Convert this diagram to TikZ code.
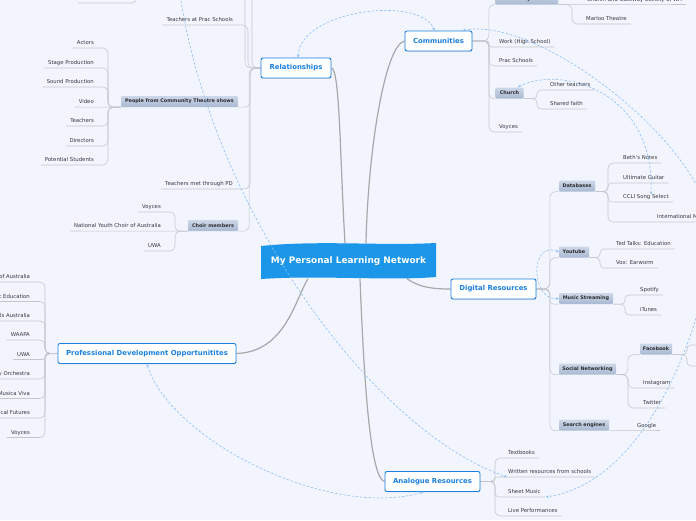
\documentclass[tikz,border=0pt]{standalone}
\usepackage{fontspec}
\setmainfont{DejaVu Sans}
\usetikzlibrary{arrows.meta,shadows}
\definecolor{bgc}{RGB}{242,245,253}
\definecolor{tblue}{RGB}{27,128,224}
\definecolor{cblue}{RGB}{28,150,232}
\definecolor{lgray}{RGB}{196,198,204}
\definecolor{mgray}{RGB}{168,168,170}
\definecolor{txt}{RGB}{55,55,58}
\definecolor{dashc}{RGB}{140,190,245}
\definecolor{boxtop}{RGB}{205,215,232}
\definecolor{boxbot}{RGB}{168,185,210}
\pgfdeclarelayer{bg}\pgfdeclarelayer{lines}\pgfsetlayers{bg,lines,main}
\tikzset{
 leaf/.style={font=\fontsize{5.35}{6}\selectfont, text=txt, inner xsep=0pt, inner ysep=0pt, text height=4pt, text depth=3.2pt},
 topic/.style={draw=tblue, line width=0.9pt, fill=white, rounded corners=2pt, inner sep=0pt, minimum height=20pt, text=tblue, font=\fontsize{6.9}{8}\selectfont\bfseries, drop shadow={opacity=0.2,shadow xshift=0.4pt,shadow yshift=-0.8pt}},
 sbox/.style={top color=boxtop, bottom color=boxbot, draw=none, rounded corners=1pt, inner sep=0pt, minimum height=11pt, text=txt!80!black, font=\fontsize{4.9}{6}\selectfont\bfseries},
 conn/.style={draw=lgray, line width=0.55pt},
 mainconn/.style={draw=mgray, line width=1.2pt},
 link/.style={draw=dashc, line width=0.6pt, dash pattern=on 2.4pt off 1.8pt, {Stealth[length=3pt,width=2.6pt]}-{Stealth[length=3pt,width=2.6pt]}},
 link1/.style={draw=dashc, line width=0.6pt, dash pattern=on 2.4pt off 1.8pt, -{Stealth[length=3pt,width=2.6pt]}},
}
\newcommand\kidR[4]{\draw[conn, rounded corners=#4] (#1) -| ([xshift=-#3]#2.south west) -- ([xshift=4pt]#2.south east);}
\newcommand\kidL[4]{\draw[conn, rounded corners=#4] (#1) -| ([xshift=#3]#2.south east) -- ([xshift=-4pt]#2.south west);}
\newcommand\boxR[4]{\draw[conn, rounded corners=#4] (#1) -| ([xshift=-#3]#2.south west) -- (#2.south west);}
\newcommand\boxL[4]{\draw[conn, rounded corners=#4] (#1) -| ([xshift=#3]#2.south east) -- (#2.south east);}
\begin{document}
\begin{tikzpicture}[x=1pt,y=-1pt]
\begin{pgfonlayer}{bg}
\fill[bgc] (0,0) rectangle (696,520);
\end{pgfonlayer}
\useasboundingbox (0,0) rectangle (696,520);

% central topic
\fill[cblue] (261,246) .. controls (320,240) and (380,246) .. (436,243) -- (436,277) .. controls (390,281) and (320,275) .. (261,279) -- cycle;
\node[font=\fontsize{8.95}{10}\selectfont\bfseries, text=white, minimum width=175pt, minimum height=35pt, inner sep=0pt] (center) at (348.5,261) {My Personal Learning Network};

% main topics
\node[topic, minimum width=70pt] (rel) at (296,68) {Relationships};
\node[topic, minimum width=67pt] (comm) at (438.5,41) {Communities};
\node[topic, minimum width=85pt] (dig) at (493.5,289) {Digital Resources};
\node[topic, minimum width=178pt] (pd) at (147,353.5) {Professional Development Opportunitites};
\node[topic, minimum width=95pt] (ana) at (432.5,481.5) {Analogue Resources};

% shaded sub-topics
\node[sbox, minimum width=117pt] (people) at (179.5,101.5) {People from Community Theatre shows};
\node[sbox, minimum width=50pt] (choir) at (213,225.5) {Choir members};
\node[sbox, minimum width=63pt] (ctheatre) at (526.5,-1) {Community Theatre};
\node[sbox, minimum width=28pt] (church) at (509.5,93) {Church};
\node[sbox, minimum width=36pt] (databases) at (577,186) {Databases};
\node[sbox, minimum width=30pt] (youtube) at (574,252) {Youtube};
\node[sbox, minimum width=54pt] (music) at (586,298.5) {Music Streaming};
\node[sbox, minimum width=57pt] (social) at (587.5,369) {Social Networking};
\node[sbox, minimum width=50pt] (search) at (584,425) {Search engines};
\node[sbox, minimum width=32pt] (facebook) at (656,349) {Facebook};

% leaves: Relationships
\node[leaf, anchor=south east] (pracT) at (233,25) {Teachers at Prac Schools};
\node[leaf, anchor=south east] (pdT) at (233,189) {Teachers met through PD};
\node[leaf, anchor=south east] (act) at (94,48) {Actors};
\node[leaf, anchor=south east] (stage) at (94,68) {Stage Production};
\node[leaf, anchor=south east] (sound) at (94,87) {Sound Production};
\node[leaf, anchor=south east] (video) at (94,107) {Video};
\node[leaf, anchor=south east] (teach) at (94,126) {Teachers};
\node[leaf, anchor=south east] (direc) at (94,146) {Directors};
\node[leaf, anchor=south east] (potst) at (94,165) {Potential Students};
\node[leaf, anchor=south east] (voy2) at (161,212) {Voyces};
\node[leaf, anchor=south east] (nyc) at (161,231) {National Youth Choir of Australia};
\node[leaf, anchor=south east] (uwa2) at (161,251) {UWA};
% leaves: Communities
\node[leaf, anchor=south west] (cg) at (587,4.5) {Church and Gateway Society of WA};
\node[leaf, anchor=south west] (marloo) at (586,24) {Marloo Theatre};
\node[leaf, anchor=south west] (work) at (499,47) {Work (High School)};
\node[leaf, anchor=south west] (prac) at (499,66) {Prac Schools};
\node[leaf, anchor=south west] (othert) at (550,90) {Other teachers};
\node[leaf, anchor=south west] (shared) at (550,109) {Shared faith};
\node[leaf, anchor=south west] (voy1) at (499,132) {Voyces};
% leaves: Digital
\node[leaf, anchor=south west] (beth) at (623,163) {Beth's Notes};
\node[leaf, anchor=south west] (ug) at (623,183) {Ultimate Guitar};
\node[leaf, anchor=south west] (ccli) at (623,202) {CCLI Song Select};
\node[leaf, anchor=south west] (intl) at (657,222) {International M};
\node[leaf, anchor=south west] (ted) at (616,249) {Ted Talks: Education};
\node[leaf, anchor=south west] (vox) at (616,268) {Vox: Earworm};
\node[leaf, anchor=south west] (spot) at (640,295) {Spotify};
\node[leaf, anchor=south west] (itun) at (640,315) {iTunes};
\node[leaf, anchor=south west] (insta) at (643,388) {Instagram};
\node[leaf, anchor=south west] (twit) at (643,408) {Twitter};
\node[leaf, anchor=south west] (google) at (637,430.5) {Google};
% leaves: Analogue
\node[leaf, anchor=south west] (textb) at (508,458) {Textbooks};
\node[leaf, anchor=south west] (writ) at (508,477) {Written resources from schools};
\node[leaf, anchor=south west] (sheet) at (508,497) {Sheet Music};
\node[leaf, anchor=south west] (live) at (508,516) {Live Performances};
% leaves: PD
\node[leaf, anchor=south east] (pd1) at (30,282) {of Australia};
\node[leaf, anchor=south east] (pd2) at (30,301.5) {c Education};
\node[leaf, anchor=south east] (pd3) at (30,321) {ls Australia};
\node[leaf, anchor=south east] (pd4) at (30,340) {WAAPA};
\node[leaf, anchor=south east] (pd5) at (30,359.5) {UWA};
\node[leaf, anchor=south east] (pd6) at (30,379) {y Orchestra};
\node[leaf, anchor=south east] (pd7) at (30,398.5) {Musica Viva};
\node[leaf, anchor=south east] (pd8) at (30,418) {cal Futures};
\node[leaf, anchor=south east] (pd9) at (30,437.5) {Voyces};

% off-canvas ends
\coordinate (offr1) at (230,-25);
\coordinate (offr2) at (236,-50);
\coordinate (offtl) at (137,-20);
\coordinate (tlend) at (78,3);
\coordinate (fbk1) at (705,345);
\coordinate (fbk2) at (705,366);
\coordinate (dtop) at (178,-20);
\coordinate (dkoff) at (712,235);

\begin{pgfonlayer}{lines}
% main connectors
\draw[mainconn] (rel.east) .. controls (340,69) and (340,160) .. ([xshift=-3.5pt]center.north);
\draw[mainconn] (comm.west) .. controls (385,45) and (368,150) .. ([xshift=17.5pt]center.north);
\draw[mainconn] ([xshift=58.5pt]center.south) .. controls (420,288) and (435,289) .. (dig.west);
\draw[mainconn] ([xshift=-40.5pt]center.south) .. controls (295,300) and (285,352) .. (pd.east);
\draw[mainconn] ([xshift=11.5pt]center.south) .. controls (364,380) and (370,478) .. (ana.west);
% Relationships
\draw[conn, rounded corners=6pt] (rel.west) -| ([xshift=15pt]offr1) -- (offr1);
\draw[conn, rounded corners=6pt] (rel.west) -| ([xshift=16pt]offr2) -- (offr2);
\draw[conn, rounded corners=5pt] (offtl) |- (tlend);
\kidL{rel.west}{pracT}{15pt}{6pt}
\boxL{rel.west}{people}{12pt}{6pt}
\kidL{rel.west}{pdT}{17pt}{6pt}
\boxL{rel.west}{choir}{11pt}{6pt}
\kidL{people.south west}{act}{14pt}{5pt}
\kidL{people.south west}{stage}{14pt}{5pt}
\kidL{people.south west}{sound}{14pt}{5pt}
\draw[conn] (people.south west) -- ([xshift=-4pt]video.south west);
\kidL{people.south west}{teach}{14pt}{5pt}
\kidL{people.south west}{direc}{14pt}{5pt}
\kidL{people.south west}{potst}{14pt}{5pt}
\kidL{choir.south west}{voy2}{14pt}{5pt}
\draw[conn] (choir.south west) -- ([xshift=-4pt]nyc.south west);
\kidL{choir.south west}{uwa2}{14pt}{5pt}
% Communities
\boxR{comm.east}{ctheatre}{6pt}{5pt}
\kidR{comm.east}{work}{10pt}{2.5pt}
\kidR{comm.east}{prac}{10pt}{5pt}
\boxR{comm.east}{church}{6.5pt}{5pt}
\kidR{comm.east}{voy1}{10pt}{6pt}
\draw[conn] (ctheatre.south east) -- ([xshift=4pt]cg.south east);
\kidR{ctheatre.south east}{marloo}{14pt}{5pt}
\kidR{church.south east}{othert}{13pt}{4pt}
\kidR{church.south east}{shared}{13pt}{4pt}
% Digital
\boxR{dig.east}{databases}{9pt}{6pt}
\boxR{dig.east}{youtube}{9pt}{6pt}
\boxR{dig.east}{music}{9pt}{4pt}
\boxR{dig.east}{social}{9pt}{6pt}
\boxR{dig.east}{search}{9pt}{6pt}
\kidR{databases.south east}{beth}{15pt}{5pt}
\kidR{databases.south east}{ug}{15pt}{4pt}
\kidR{databases.south east}{ccli}{15pt}{4pt}
\kidR{databases.south east}{intl}{49pt}{5pt}
\kidR{youtube.south east}{ted}{16pt}{4pt}
\kidR{youtube.south east}{vox}{16pt}{4pt}
\kidR{music.south east}{spot}{15pt}{4pt}
\kidR{music.south east}{itun}{15pt}{4pt}
\boxR{social.south east}{facebook}{12pt}{5pt}
\kidR{social.south east}{insta}{15pt}{5pt}
\kidR{social.south east}{twit}{15pt}{5pt}
\draw[conn] (search.south east) -- ([xshift=4pt]google.south east);
\draw[conn, rounded corners=4pt] (facebook.south east) -| ([xshift=-18pt]fbk1) -- (fbk1);
\draw[conn, rounded corners=4pt] (facebook.south east) -| ([xshift=-18pt]fbk2) -- (fbk2);
% Analogue
\kidR{ana.east}{textb}{13pt}{5pt}
\kidR{ana.east}{writ}{13pt}{2pt}
\kidR{ana.east}{sheet}{13pt}{4pt}
\kidR{ana.east}{live}{13pt}{5pt}
% PD
\kidL{pd.west}{pd1}{15pt}{5pt}
\kidL{pd.west}{pd2}{15pt}{5pt}
\kidL{pd.west}{pd3}{15pt}{5pt}
\kidL{pd.west}{pd4}{15pt}{5pt}
\kidL{pd.west}{pd5}{15pt}{2.5pt}
\kidL{pd.west}{pd6}{15pt}{5pt}
\kidL{pd.west}{pd7}{15pt}{5pt}
\kidL{pd.west}{pd8}{15pt}{5pt}
\kidL{pd.west}{pd9}{15pt}{5pt}
\end{pgfonlayer}

% dashed relation links
\draw[link] ([xshift=2pt]rel.north) .. controls (300,10) and (420,-5) .. ([xshift=-4pt]comm.north);
\draw[link1] (dtop) .. controls (205,200) and (370,430) .. ([xshift=-1pt]writ.south west);
\draw[link] ([xshift=24pt]comm.north) .. controls (540,15) and (712,150) .. (dkoff) .. controls (712,290) and (660,480) .. ([xshift=5pt]sheet.south east);
\draw[link] ([xshift=-6pt]church.north east) .. controls (560,65) and (655,90) .. ([xshift=28pt]ccli.north west);
\draw[link] (youtube.west) .. controls (530,240) and (530,300) .. (music.west);
\draw[link] (pd.south) .. controls (170,440) and (330,520) .. ([xshift=-9pt]ana.south);
\end{tikzpicture}
\end{document}
